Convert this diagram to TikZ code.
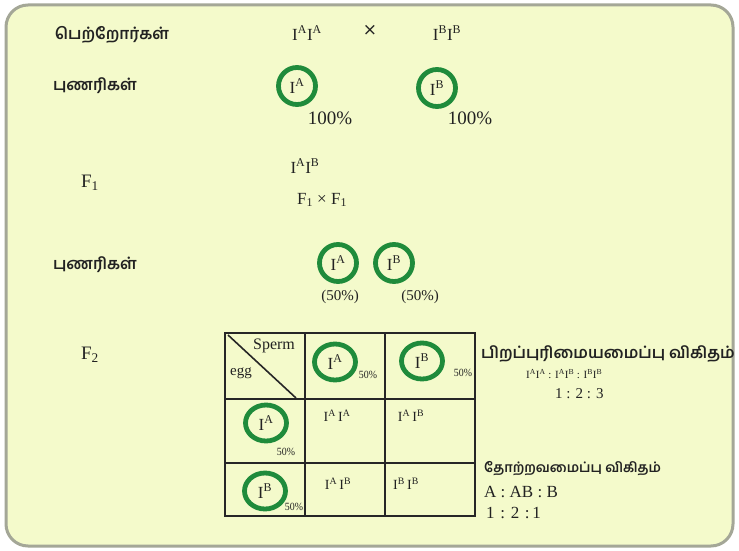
\documentclass[tikz,border=0pt]{standalone}
\usepackage{fontspec}
\setmainfont{Liberation Serif}
\newfontfamily\tamilfont[Script=Tamil]{Hind Madurai}
\newfontfamily\sansx{DejaVu Sans}
\usetikzlibrary{shapes.geometric}
\definecolor{bgc}{HTML}{F4FACB}
\definecolor{ringc}{HTML}{1F8B3B}
\definecolor{ink}{HTML}{222222}
\definecolor{framec}{HTML}{A4A797}
\newcommand{\gI}[1]{I\textsuperscript{#1}}
\tikzset{
  tamil/.style={font=\tamilfont\bfseries\fontsize{16}{18}\selectfont, text=ink, inner sep=0pt},
  lbl/.style={font=\fontsize{17}{19}\selectfont, text=ink, inner sep=0pt},
  big/.style={font=\fontsize{19}{21}\selectfont, text=ink, inner sep=0pt},
  mid/.style={font=\fontsize{15}{17}\selectfont, text=ink, inner sep=0pt},
  cell/.style={font=\fontsize{14}{16}\selectfont, text=ink, inner sep=0pt},
  small/.style={font=\fontsize{11}{13}\selectfont, text=ink, inner sep=0pt},
  pct/.style={font=\fontsize{11}{13}\selectfont, text=ink, inner sep=0pt, xscale=0.9},
  gam/.style={circle, draw=ringc, line width=4.8pt, minimum size=37pt, inner sep=0pt, text=ink, font=\fontsize{17}{19}\selectfont},
  tgam/.style={ellipse, draw=ringc, line width=4.8pt, minimum width=41pt, minimum height=36pt, inner sep=0pt, text=ink, font=\fontsize{17}{19}\selectfont},
  grid/.style={line width=1.8pt, draw=black!85}
}
\begin{document}
\begin{tikzpicture}[x=1pt,y=-1pt]
\useasboundingbox (0,0) rectangle (739,551);
\fill[white] (0,0) rectangle (739,551);
\draw[rounded corners=22pt, line width=3pt, draw=framec, fill=bgc] (6,5) rectangle (733,546);

% parents
\node[tamil] (par) at (112,35) {பெற்றோர்கள்};
\node[lbl] (p1) at (307,33) {\gI{A}\gI{A}};
\node[lbl, font=\sansx\fontsize{17}{19}\selectfont] (cross) at (370,30) {×};
\node[lbl] (p2) at (447,33) {\gI{B}\gI{B}};

% gametes 1
\node[tamil] (gm1) at (95,86) {புணரிகள்};
\node[gam] (ga) at (297,86) {\gI{A}};
\node[big] (pa) at (330,118) {100\%};
\node[gam] (gb) at (437,88) {\gI{B}};
\node[big] (pb) at (470,118) {100\%};

% F1
\node[lbl, font=\fontsize{19}{21}\selectfont] (f1) at (90,183) {F\textsubscript{1}};
\node[lbl] (f1g) at (305,166) {\gI{A}\gI{B}};
\node[lbl] (f1x) at (322,200) {F\textsubscript{1} × F\textsubscript{1}};

% gametes 2
\node[tamil] (gm2) at (95,265) {புணரிகள்};
\node[gam] (gc) at (338,263) {\gI{A}};
\node[gam] (gd) at (394,263) {\gI{B}};
\node[mid] (pc) at (340,297) {(50\%)};
\node[mid] (pd) at (420,297) {(50\%)};

% F2
\node[lbl, font=\fontsize{19}{21}\selectfont] (f2) at (90,355) {F\textsubscript{2}};

% Punnett square
\draw[grid] (225,333) rectangle (475,516);
\draw[grid] (305,333) -- (305,516);
\draw[grid] (385,333) -- (385,516);
\draw[grid] (225,399) -- (475,399);
\draw[grid] (225,463) -- (475,463);
\coordinate (dg1) at (228,335);
\coordinate (dg2) at (296,398);
\draw[line width=1.6pt, draw=black!85] (dg1) -- (dg2);
\node[mid, font=\fontsize{16}{18}\selectfont] (sperm) at (274,346) {Sperm};
\node[mid, font=\fontsize{15}{17}\selectfont] (egg) at (241,373) {egg};

\node[tgam] (h1) at (335,362) {\gI{A}};
\node[pct] (h1p) at (368,375) {50\%};
\node[tgam] (h2) at (422,361) {\gI{B}};
\node[pct] (h2p) at (463,373) {50\%};

\node[tgam] (r1) at (266,423) {\gI{A}};
\node[pct] (r1p) at (286,452) {50\%};
\node[tgam] (r2) at (265,491) {\gI{B}};
\node[pct] (r2p) at (294,507) {50\%};

\node[cell] (c11) at (337,416) {\gI{A}\,\gI{A}};
\node[cell] (c12) at (411,416) {\gI{A}\,\gI{B}};
\node[cell] (c21) at (338,484) {\gI{A}\,\gI{B}};
\node[cell] (c22) at (406,484) {\gI{B}\,\gI{B}};

% genotype ratio
\node[tamil, anchor=west] (gt) at (481,354) {பிறப்புரிமையமைப்பு விகிதம்};
\node[small, anchor=west] (gtr) at (526,374) {\gI{A}\gI{A} : \gI{A}\gI{B} : \gI{B}\gI{B}};
\node[mid, anchor=west] (gtn) at (555,394) {1 : 2 : 3};

% phenotype ratio
\node[tamil, font=\tamilfont\bfseries\fontsize{13.6}{16}\selectfont, anchor=west] (pt) at (484,469) {தோற்றவமைப்பு விகிதம்};
\node[lbl, anchor=west] (ptr) at (484,492) {A : AB : B};
\node[lbl, anchor=west] (ptn) at (486,513) {1\,\,:\,\,2\,\,:\,1};
\end{tikzpicture}
\end{document}
